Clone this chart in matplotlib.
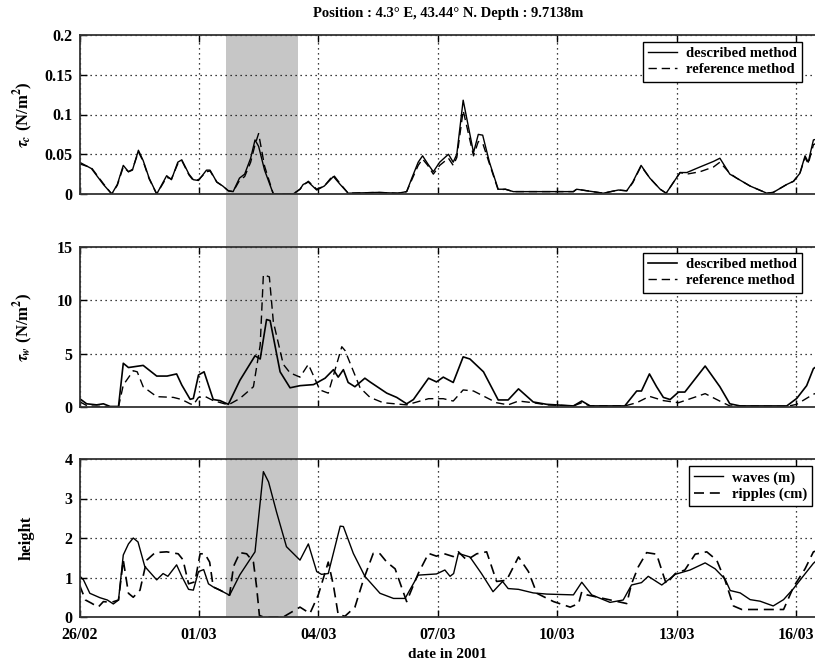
import matplotlib
matplotlib.use("Agg")
import matplotlib.pyplot as plt
from matplotlib.patches import Rectangle
import matplotlib.transforms as mtransforms

plt.rcParams['font.family'] = ['Liberation Serif', 'DejaVu Serif']
plt.rcParams['font.weight'] = 'bold'
plt.rcParams['mathtext.fontset'] = 'stix'

# ---------------- data (days since 26/02/2001 00:00) ----------------
tick_days = [0, 3, 6, 9, 12, 15, 18]
tick_labels = ['26/02', '01/03', '04/03', '07/03', '10/03', '13/03', '16/03']
shade_start, shade_end = 3.67, 5.48

tc_desc_t = [0, 0.3, 0.6, 0.81, 0.95, 1.10, 1.23, 1.33, 1.48, 1.6, 1.75, 1.94, 2.19, 2.31, 2.47, 2.57,
             2.75, 2.86, 2.99, 3.19, 3.28, 3.45, 3.6, 3.74, 3.86, 4.02, 4.15, 4.30, 4.41, 4.50, 4.65,
             4.87, 5.37, 5.54, 5.62, 5.75, 5.96, 6.15, 6.38, 6.55, 6.75, 7.5, 8.0, 8.22, 8.35, 8.51,
             8.62, 8.75, 8.89, 9.05, 9.27, 9.39, 9.48, 9.64, 9.9, 10.02, 10.13, 10.3, 10.52, 10.7,
             10.9, 12.41, 12.49, 13.16, 13.54, 13.75, 13.9, 14.11, 14.33, 14.59, 14.74, 15.09, 15.26,
             15.59, 15.93, 16.09, 16.34, 16.51, 16.85, 17.27, 17.43, 17.77, 17.94, 18.10, 18.23,
             18.31, 18.44, 18.6]
tc_desc_v = [0.040, 0.032, 0.012, 0.0, 0.012, 0.036, 0.028, 0.030, 0.055, 0.042, 0.020, 0.0, 0.023,
             0.018, 0.040, 0.043, 0.025, 0.018, 0.017, 0.030, 0.030, 0.015, 0.010, 0.004, 0.003, 0.020,
             0.025, 0.045, 0.068, 0.060, 0.030, 0.0, 0.0, 0.006, 0.012, 0.015, 0.005, 0.010, 0.022,
             0.012, 0.001, 0.002, 0.001, 0.003, 0.020, 0.040, 0.048, 0.038, 0.028, 0.040, 0.050,
             0.040, 0.050, 0.118, 0.052, 0.075, 0.074, 0.040, 0.006, 0.006, 0.003, 0.003, 0.006,
             0.001, 0.005, 0.004, 0.015, 0.036, 0.020, 0.006, 0.001, 0.027, 0.027, 0.034, 0.041,
             0.045, 0.025, 0.020, 0.010, 0.001, 0.002, 0.012, 0.016, 0.026, 0.048, 0.040, 0.068, 0.07]
tc_ref_v = [0.038, 0.033, 0.013, 0.0, 0.011, 0.034, 0.028, 0.031, 0.053, 0.041, 0.019, 0.0, 0.021,
            0.019, 0.038, 0.042, 0.024, 0.017, 0.018, 0.028, 0.029, 0.015, 0.010, 0.004, 0.003, 0.017,
            0.022, 0.040, 0.062, 0.076, 0.035, 0.0, 0.0, 0.006, 0.011, 0.016, 0.006, 0.010, 0.024,
            0.013, 0.001, 0.002, 0.001, 0.003, 0.018, 0.036, 0.044, 0.036, 0.025, 0.036, 0.045,
            0.036, 0.046, 0.105, 0.048, 0.066, 0.064, 0.038, 0.005, 0.006, 0.003, 0.003, 0.006,
            0.001, 0.005, 0.004, 0.014, 0.035, 0.020, 0.006, 0.001, 0.027, 0.025, 0.028, 0.034,
            0.040, 0.026, 0.020, 0.010, 0.001, 0.002, 0.012, 0.016, 0.026, 0.046, 0.038, 0.062, 0.066]

tw_desc_t = [0, 0.18, 0.43, 0.6, 0.77, 0.98, 1.10, 1.23, 1.6, 1.94, 2.2, 2.44, 2.57, 2.78, 2.86, 2.99,
             3.13, 3.36, 3.53, 3.74, 4.03, 4.41, 4.54, 4.70, 4.79, 5.04, 5.29, 5.54, 5.88, 6.17, 6.38,
             6.5, 6.63, 6.75, 6.92, 7.17, 7.3, 7.72, 7.97, 8.22, 8.39, 8.77, 8.97, 9.14, 9.39, 9.64,
             9.81, 10.15, 10.52, 10.77, 11.03, 11.4, 11.74, 12.41, 12.62, 12.83, 13.7, 14.0, 14.12,
             14.32, 14.5, 14.67, 14.84, 15.05, 15.21, 15.72, 16.09, 16.34, 16.6, 17.77, 18.02, 18.27,
             18.44, 18.6]
tw_desc_v = [0.8, 0.3, 0.2, 0.3, 0.05, 0.05, 4.1, 3.7, 3.9, 2.9, 2.9, 3.1, 2.06, 0.72, 0.8, 3.0,
             3.3, 0.7, 0.6, 0.25, 2.5, 4.8, 4.5, 8.2, 8.1, 3.3, 1.8, 2.0, 2.1, 2.7, 3.5, 2.8, 3.5,
             2.3, 1.9, 2.7, 2.35, 1.3, 0.9, 0.3, 0.7, 2.7, 2.35, 2.8, 2.3, 4.7, 4.5, 3.3, 0.66, 0.66,
             1.7, 0.47, 0.25, 0.1, 0.56, 0.1, 0.1, 1.5, 1.5, 3.1, 1.9, 0.9, 0.7, 1.4, 1.4, 3.84, 1.9,
             0.3, 0.1, 0.1, 0.8, 2.0, 3.6, 4.0]
tw_ref_t = [0, 0.2, 0.98, 1.10, 1.35, 1.45, 1.6, 1.94, 2.36, 2.57, 2.78, 2.86, 2.99, 3.15, 3.36, 3.74,
            4.03, 4.37, 4.54, 4.62, 4.77, 4.87, 5.12, 5.29, 5.54, 5.75, 6.04, 6.25, 6.59, 6.67, 7.05,
            7.3, 7.63, 8.22, 8.77, 9.14, 9.39, 9.64, 9.9, 10.48, 10.77, 11.03, 11.4, 11.74, 12.41,
            12.62, 12.83, 13.7, 14.0, 14.32, 14.67, 15.05, 15.72, 16.17, 16.34, 17.77, 18.02, 18.44, 18.6]
tw_ref_v = [0.5, 0.1, 0.0, 2.06, 3.4, 3.3, 1.9, 0.97, 0.9, 0.7, 0.3, 0.2, 0.9, 1.0, 0.6, 0.2, 0.8,
            1.9, 5.8, 12.4, 12.2, 8.0, 4.0, 3.2, 2.8, 4.0, 1.6, 1.3, 5.65, 5.3, 1.8, 0.9, 0.4, 0.2,
            0.78, 0.78, 0.56, 1.6, 1.5, 0.4, 0.2, 0.56, 0.4, 0.2, 0.1, 0.4, 0.1, 0.1, 0.4, 1.0, 0.6,
            0.4, 1.25, 0.4, 0.1, 0.05, 0.25, 1.2, 1.4]

h_waves_t = [0, 0.1, 0.26, 0.51, 0.7, 0.85, 0.98, 1.10, 1.23, 1.35, 1.47, 1.64, 1.94, 2.1, 2.22, 2.44,
             2.57, 2.74, 2.86, 2.99, 3.12, 3.24, 3.36, 3.53, 3.77, 4.03, 4.41, 4.62, 4.75, 4.95, 5.2,
             5.54, 5.75, 5.96, 6.08, 6.25, 6.55, 6.63, 6.88, 7.17, 7.55, 7.89, 8.18, 8.51, 8.97, 9.18,
             9.31, 9.4, 9.52, 9.81, 10.1, 10.39, 10.63, 10.77, 11.03, 11.4, 11.74, 12.41, 12.62, 12.87,
             13.33, 13.66, 13.87, 14.12, 14.29, 14.63, 14.97, 15.34, 15.72, 15.97, 16.22, 16.35, 16.6,
             16.85, 17.1, 17.43, 17.69, 17.94, 18.18, 18.44, 18.6]
h_waves_v = [1.04, 0.94, 0.6, 0.49, 0.43, 0.33, 0.43, 1.57, 1.85, 2.0, 1.9, 1.28, 0.94, 1.1, 1.03,
             1.32, 1.03, 0.7, 0.68, 1.15, 1.2, 0.84, 0.76, 0.68, 0.55, 1.07, 1.65, 3.68, 3.42, 2.66,
             1.78, 1.44, 1.85, 1.15, 1.08, 1.1, 2.3, 2.29, 1.61, 1.03, 0.6, 0.47, 0.47, 1.06, 1.09,
             1.19, 1.03, 1.1, 1.61, 1.52, 1.1, 0.64, 0.9, 0.72, 0.7, 0.61, 0.58, 0.56, 0.88, 0.56,
             0.37, 0.43, 0.81, 0.87, 1.03, 0.81, 1.08, 1.19, 1.37, 1.22, 0.96, 0.67, 0.61, 0.44, 0.4,
             0.28, 0.44, 0.72, 1.03, 1.36, 1.5]
h_ripples_t = [0, 0.15, 0.3, 0.47, 0.6, 0.8, 0.98, 1.10, 1.23, 1.35, 1.52, 1.69, 1.9, 2.19, 2.48, 2.6,
               2.74, 2.9, 3.03, 3.15, 3.27, 3.36, 3.53, 3.77, 3.87, 4.03, 4.2, 4.37, 4.45, 4.52, 4.62,
               5.12, 5.54, 5.79, 6.0, 6.25, 6.38, 6.5, 6.67, 6.92, 7.13, 7.38, 7.55, 7.72, 7.93, 8.09,
               8.22, 8.51, 8.77, 8.97, 9.14, 9.39, 9.52, 9.73, 9.98, 10.23, 10.48, 10.73, 11.03, 11.28,
               11.49, 11.91, 12.33, 12.54, 12.62, 12.75, 13.75, 13.87, 14.04, 14.25, 14.5, 14.74,
               14.97, 15.21, 15.47, 15.76, 16.01, 16.22, 16.43, 16.64, 17.69, 17.94, 18.23, 18.44, 18.6]
h_ripples_v = [0.81, 0.43, 0.35, 0.25, 0.39, 0.37, 0.43, 1.44, 0.6, 0.5, 0.68, 1.44, 1.63, 1.65,
               1.6, 1.45, 0.84, 0.89, 1.6, 1.6, 1.39, 0.76, 0.68, 0.55, 1.28, 1.63, 1.6, 1.39, 0.76,
               0.04, 0.0, 0.0, 0.25, 0.09, 0.56, 1.39, 0.8, 0.06, 0.02, 0.25, 0.93, 1.61, 1.6, 1.39,
               1.22, 0.76, 0.39, 1.1, 1.61, 1.54, 1.61, 1.53, 1.65, 1.44, 1.6, 1.65, 0.9, 0.93, 1.52,
               1.15, 0.6, 0.39, 0.25, 0.34, 0.64, 0.56, 0.34, 0.84, 1.27, 1.63, 1.59, 0.84, 1.1, 1.19,
               1.59, 1.65, 1.44, 0.93, 0.28, 0.19, 0.19, 0.76, 1.22, 1.65, 1.7]

title = 'Position : 4.3° E, 43.44° N. Depth : 9.7138m'

# ---------------- figure ----------------
W, H = 815, 665
fig = plt.figure(figsize=(W / 100, H / 100), dpi=100)

left = 79.5 / W
right = 1.0
xmax = (W - 79.5) / 39.8

panels = [(35, 194), (247, 407), (459, 617)]
axes = []
for (top, bot) in panels:
    ax = fig.add_axes([left, 1 - bot / H, right - left, (bot - top) / H])
    ax.set_facecolor('none')
    axes.append(ax)

ax1, ax2, ax3 = axes
lw = 1.0
dash = (0, (6, 3.5))
ax1.plot(tc_desc_t, tc_desc_v, color='black', lw=lw, label='described method')
ax1.plot(tc_desc_t, tc_ref_v, color='black', lw=lw, ls=dash, label='reference method')
ax2.plot(tw_desc_t, tw_desc_v, color='black', lw=lw + 0.2, label='described method')
ax2.plot(tw_ref_t, tw_ref_v, color='black', lw=lw, ls=dash, label='reference method')
ax3.plot(h_waves_t, h_waves_v, color='black', lw=lw, label='waves (m)')
ax3.plot(h_ripples_t, h_ripples_v, color='black', lw=lw + 0.2, ls=dash, label='ripples (cm)')

ax1.set_ylim(0, 0.2)
ax1.set_yticks([0, 0.05, 0.1, 0.15, 0.2])
ax1.set_yticklabels(['0', '0.05', '0.1', '0.15', '0.2'])
ax2.set_ylim(0, 15)
ax2.set_yticks([0, 5, 10, 15])
ax3.set_ylim(0, 4)
ax3.set_yticks([0, 1, 2, 3, 4])

for ax in axes:
    ax.set_xlim(0, xmax)
    ax.set_xticks(tick_days)
    ax.grid(True, color='black', ls=(0, (1, 3)), lw=0.9)
    ax.tick_params(direction='in', length=5, width=1, top=True, right=False,
                   labelsize=11.5)
    ax.tick_params(axis='x', pad=7)
    ax.tick_params(axis='y', pad=5)
    for s in ax.spines.values():
        s.set_linewidth(1.3)
        s.set_color('#333333')
    ax.spines['right'].set_visible(False)
    for lbl in ax.get_yticklabels():
        lbl.set_fontweight('bold')

ax1.set_xticklabels([])
ax2.set_xticklabels([])
ax3.set_xticklabels(tick_labels, fontweight='bold')

ax1.set_ylabel(r'$\tau_c$ (N/m$^2$)', fontsize=12, fontweight='bold')
ax2.set_ylabel(r'$\tau_w$ (N/m$^2$)', fontsize=12, fontweight='bold')
ax3.set_ylabel('height', fontsize=12, fontweight='bold')
axw = W - 79.5
for ax in axes:
    ax.yaxis.set_label_coords(-(79.5 - 35) / axw, 0.5)

ax3.set_xlabel('date in 2001', fontsize=11, fontweight='bold', labelpad=4)
fig.text(448 / W, 1 - 14 / H, title, ha='center', va='center', fontsize=10.5, fontweight='bold')

leg_kw = dict(frameon=True, fancybox=False, shadow=False, framealpha=1, edgecolor='black',
              fontsize=10.5, handlelength=2.0, borderpad=0.35, labelspacing=0.2,
              handletextpad=0.6, borderaxespad=0)
l1 = ax1.legend(loc='upper right', bbox_to_anchor=((802 - 79.5) / axw, (194 - 42) / 159), **leg_kw)
l2 = ax2.legend(loc='upper right', bbox_to_anchor=((802 - 79.5) / axw, (407 - 253) / 160), **leg_kw)
l3 = ax3.legend(loc='upper right', bbox_to_anchor=((812 - 79.5) / axw, (617 - 466) / 158), **leg_kw)
for l in (l1, l2, l3):
    l.get_frame().set_linewidth(1.0)
    for t in l.get_texts():
        t.set_fontweight('bold')

# grey shaded period spanning all panels
trans = mtransforms.blended_transform_factory(ax3.transData, fig.transFigure)
rect = Rectangle((shade_start, 1 - 617 / H), shade_end - shade_start, (617 - 35) / H,
                 transform=trans, facecolor='#c6c6c6', edgecolor='none', zorder=-10)
fig.add_artist(rect)
fig.patch.set_zorder(-20)

fig.savefig('out.png', dpi=100)
